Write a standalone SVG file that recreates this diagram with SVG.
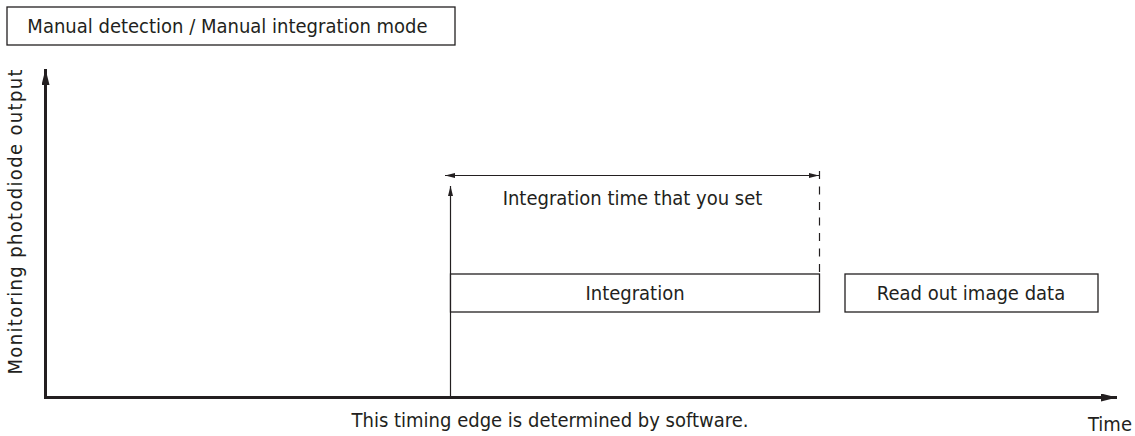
<svg xmlns="http://www.w3.org/2000/svg" width="1135" height="436" viewBox="0 0 1135 436">
<defs>
<style>
text{font-family:"DejaVu Sans Condensed","DejaVu Sans","Noto Sans",sans-serif;font-stretch:condensed;font-size:20px;fill:#231f20}
.box{fill:#fff;stroke:#231f20;stroke-width:1.3}
.thick{stroke:#231f20;stroke-width:3;fill:none}
.thin{stroke:#231f20;stroke-width:1.2;fill:none}
</style>
<marker id="bigArrow" viewBox="0 0 16 8" refX="16" refY="4" markerWidth="16" markerHeight="8" markerUnits="userSpaceOnUse" orient="auto">
<path d="M0,0 L16,4 L0,8 Z" fill="#231f20"/>
</marker>
<marker id="smallArrow" viewBox="0 0 10 5" refX="10" refY="2.5" markerWidth="10" markerHeight="5" markerUnits="userSpaceOnUse" orient="auto-start-reverse">
<path d="M0,0 L10,2.5 L0,5 Z" fill="#231f20"/>
</marker>
</defs>
<rect width="1135" height="436" fill="#fff"/>
<g id="title">
<rect class="box" x="7" y="7" width="448" height="38"/>
<text x="227.5" y="33" text-anchor="middle">Manual detection / Manual integration mode</text>
</g>
<g id="connectors">
<path class="thick" d="M45.5,398 L45.5,69" marker-end="url(#bigArrow)"/>
<path class="thick" d="M44,397.5 L1117,397.5" marker-end="url(#bigArrow)"/>
<path class="thin" d="M450.5,397 L450.5,186" marker-end="url(#smallArrow)"/>
<path class="thin" d="M445,175.5 L819,175.5" marker-start="url(#smallArrow)" marker-end="url(#smallArrow)"/>
<path class="thin" d="M819.5,171 L819.5,274" stroke-dasharray="8 7.5"/>
</g>
<g id="integration">
<rect class="box" x="450.5" y="274" width="369" height="38"/>
<text x="635" y="300" text-anchor="middle">Integration</text>
</g>
<g id="readout">
<rect class="box" x="845" y="274" width="253" height="38"/>
<text x="971" y="300" text-anchor="middle">Read out image data</text>
</g>
<g id="labels">
<text x="632.5" y="205" text-anchor="middle">Integration time that you set</text>
<text x="550" y="427" text-anchor="middle">This timing edge is determined by software.</text>
<text x="1110" y="431" text-anchor="middle">Time</text>
<text transform="translate(22,222) rotate(-90)" text-anchor="middle" font-size="21" textLength="305" lengthAdjust="spacing">Monitoring photodiode output</text>
</g>
</svg>
